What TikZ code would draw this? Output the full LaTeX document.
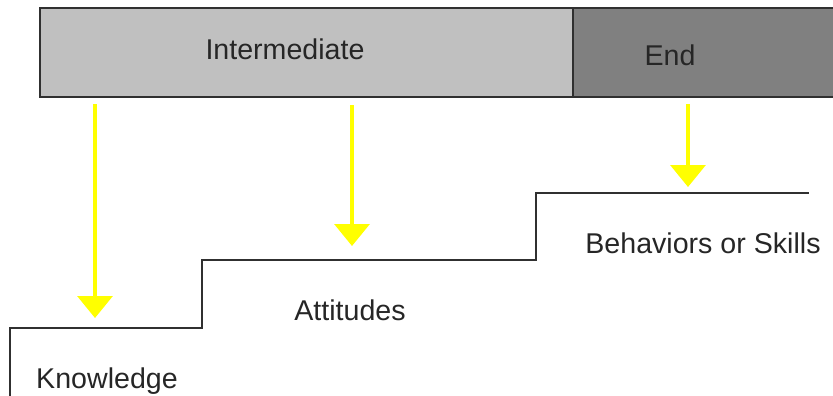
\documentclass[tikz,border=0pt]{standalone}
\usepackage{fontspec}
\setmainfont{Liberation Sans}
\usetikzlibrary{arrows.meta}
\definecolor{barlight}{HTML}{C0C0C0}
\definecolor{bardark}{HTML}{808080}
\definecolor{edge}{HTML}{303030}
\definecolor{pointer}{HTML}{FFFF00}
\tikzset{
  phase/.style={draw=edge, line width=1.6pt, inner sep=0pt, anchor=north west},
  lbl/.style={font=\fontsize{28.6}{33}\selectfont, text=black!85, inner sep=0pt},
  stairs/.style={draw=edge, line width=1.8pt},
  drop/.style={draw=pointer, line width=3.5pt,
    -{Triangle[width=35pt,length=22pt]}, shorten >=0pt}
}
\begin{document}
\begin{tikzpicture}[x=1pt,y=-1pt]
  \useasboundingbox (0,0) rectangle (833,396);
  % phase bar
  \node[phase, fill=barlight, minimum width=533pt, minimum height=89pt] (inter) at (39,7) {};
  \node[phase, fill=bardark, minimum width=264pt, minimum height=89pt] (end) at (572,7) {};
  \node[lbl] (intertxt) at (285,49) {Intermediate};
  \node[lbl] (endtxt) at (670,55) {End};
  % staircase of outcomes
  \draw[stairs] (10,400) -- (10,328) -- (202,328) -- (202,260) -- (536,260) -- (536,193) -- (809,193);
  \node[lbl] (know) at (107,381) {Knowledge};
  \node[lbl] (att) at (350,310) {Attitudes};
  \node[lbl] (beh) at (703,243) {Behaviors or Skills};
  % pointers from the bar down to each step
  \coordinate (k0) at (95,104);  \coordinate (k1) at (95,318);
  \coordinate (a0) at (352,105); \coordinate (a1) at (352,246);
  \coordinate (b0) at (688,104); \coordinate (b1) at (688,187);
  \draw[drop] (k0) -- (k1);
  \draw[drop] (a0) -- (a1);
  \draw[drop] (b0) -- (b1);
\end{tikzpicture}
\end{document}
